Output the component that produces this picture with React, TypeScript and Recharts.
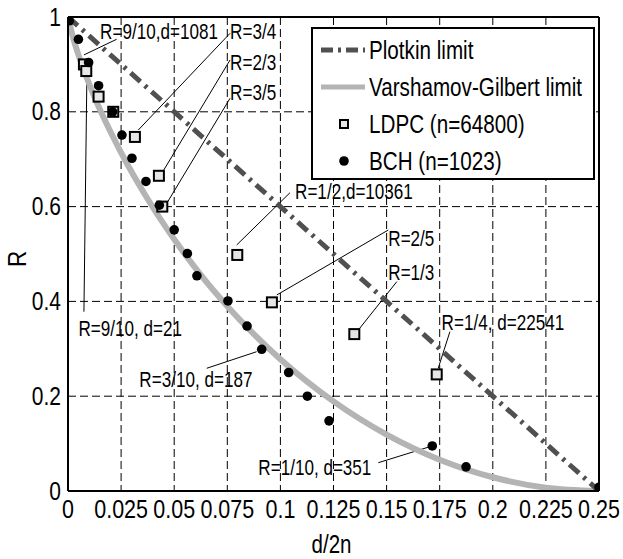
import { ComposedChart, Line, Scatter, XAxis, YAxis, CartesianGrid, ReferenceLine } from "recharts"

const FONT = "'Liberation Sans', Arial, sans-serif"

// axis ticks
const xTicks = [0, 0.025, 0.05, 0.075, 0.1, 0.125, 0.15, 0.175, 0.2, 0.225, 0.25]
const yTicks = [0, 0.2, 0.4, 0.6, 0.8, 1]

// Plotkin limit (straight dash-dot line)
const plotkin = [
  { x: 0, y: 1 },
  { x: 0.1, y: 0.6 },
  { x: 0.2, y: 0.2 },
  { x: 0.25, y: 0 },
]

// Varshamov-Gilbert limit
const gilbert = [
  { x: 0, y: 1 },
  { x: 0.0025, y: 0.955 },
  { x: 0.005, y: 0.919 },
  { x: 0.0125, y: 0.831 },
  { x: 0.025, y: 0.714 },
  { x: 0.0375, y: 0.616 },
  { x: 0.05, y: 0.531 },
  { x: 0.0625, y: 0.456 },
  { x: 0.075, y: 0.39 },
  { x: 0.0875, y: 0.331 },
  { x: 0.1, y: 0.278 },
  { x: 0.125, y: 0.189 },
  { x: 0.15, y: 0.119 },
  { x: 0.175, y: 0.066 },
  { x: 0.2, y: 0.029 },
  { x: 0.225, y: 0.007 },
  { x: 0.25, y: 0 },
]

// LDPC (n=64800)
const ldpc = [
  { x: 0.0075, y: 0.9 },
  { x: 0.0086, y: 0.886 },
  { x: 0.0144, y: 0.832 },
  { x: 0.0213, y: 0.8 },
  { x: 0.0315, y: 0.747 },
  { x: 0.0428, y: 0.665 },
  { x: 0.0444, y: 0.6 },
  { x: 0.0797, y: 0.498 },
  { x: 0.096, y: 0.398 },
  { x: 0.1348, y: 0.331 },
  { x: 0.1736, y: 0.246 },
]

// BCH (n=1023)
const bch = [
  { x: 0.0006, y: 0.992 },
  { x: 0.0049, y: 0.953 },
  { x: 0.0097, y: 0.904 },
  { x: 0.0144, y: 0.855 },
  { x: 0.021, y: 0.8 },
  { x: 0.0254, y: 0.751 },
  { x: 0.0301, y: 0.702 },
  { x: 0.0367, y: 0.653 },
  { x: 0.043, y: 0.603 },
  { x: 0.05, y: 0.551 },
  { x: 0.0562, y: 0.501 },
  { x: 0.0607, y: 0.454 },
  { x: 0.0753, y: 0.401 },
  { x: 0.0843, y: 0.348 },
  { x: 0.0912, y: 0.299 },
  { x: 0.1039, y: 0.25 },
  { x: 0.1127, y: 0.2 },
  { x: 0.1229, y: 0.148 },
  { x: 0.1715, y: 0.095 },
  { x: 0.1874, y: 0.051 },
  { x: 0.25, y: 0.008 },
]

// annotation texts (anchored at their left/middle, in data units)
const notes = [
  { x: 0.0151, y: 0.9705, text: "R=9/10,d=1081" },
  { x: 0.0763, y: 0.9705, text: "R=3/4" },
  { x: 0.0763, y: 0.9057, text: "R=2/3" },
  { x: 0.0763, y: 0.8424, text: "R=3/5" },
  { x: 0.1069, y: 0.6329, text: "R=1/2,d=10361" },
  { x: 0.1508, y: 0.5338, text: "R=2/5" },
  { x: 0.1508, y: 0.4627, text: "R=1/3" },
  { x: 0.1759, y: 0.3572, text: "R=1/4, d=22541" },
  { x: 0.0049, y: 0.3439, text: "R=9/10, d=21" },
  { x: 0.0336, y: 0.2363, text: "R=3/10, d=187" },
  { x: 0.0896, y: 0.0513, text: "R=1/10, d=351" },
]

// leader lines: [x1, y1, x2, y2]
const leaders = [
  [0.0075, 0.92, 0.0229, 0.953],
  [0.0331, 0.7616, 0.0763, 0.9656],
  [0.0449, 0.6757, 0.0763, 0.9093],
  [0.0465, 0.607, 0.0763, 0.8285],
  [0.0794, 0.519, 0.1045, 0.6293],
  [0.0983, 0.4135, 0.1508, 0.5506],
  [0.1367, 0.3397, 0.1548, 0.4416],
  [0.1743, 0.2589, 0.1798, 0.3361],
  [0.0089, 0.8776, 0.0075, 0.3783],
  [0.0653, 0.2589, 0.0888, 0.2939],
  [0.1461, 0.0597, 0.1704, 0.0935],
]

// condensed text: the reference uses a narrow sans
const NarrowText = ({ x, y, sx, size, anchor, angle, children }: any) => (
  <text
    transform={`translate(${x} ${y}) rotate(${angle || 0}) scale(${sx} 1)`}
    x={0}
    y={0}
    textAnchor={anchor || "start"}
    dominantBaseline="central"
    fontFamily={FONT}
    fontSize={size}
    fill="#000"
  >
    {children}
  </text>
)

const XTick = (props: any) => (
  <NarrowText x={props.x} y={props.y + 10} sx={0.86} size={25} anchor="middle">
    {String(props.payload.value)}
  </NarrowText>
)

const YTick = (props: any) => (
  <NarrowText x={props.x + 1} y={props.y} sx={0.84} size={25} anchor="end">
    {String(props.payload.value)}
  </NarrowText>
)

const XLabel = (props: any) => {
  const vb = props.viewBox
  return (
    <NarrowText x={vb.x + vb.width / 2 - 2} y={544} sx={0.82} size={25} anchor="middle">
      d/2n
    </NarrowText>
  )
}

const YLabel = (props: any) => {
  const vb = props.viewBox
  return (
    <NarrowText x={17} y={vb.y + vb.height / 2 + 5} sx={0.9} size={25} anchor="middle" angle={-90}>
      R
    </NarrowText>
  )
}

const Square = (props: any) => (
  <rect x={props.cx - 5} y={props.cy - 5} width={10} height={10} fill="#e6e6e6" stroke="#000" strokeWidth={2} />
)

const Dot = (props: any) => <circle cx={props.cx} cy={props.cy} r={4.8} fill="#000" />

const Note = (props: any) => (
  <NarrowText x={props.cx} y={props.cy} sx={0.76} size={22.5}>
    {props.payload.text}
  </NarrowText>
)

const legendRows = [
  { name: "Plotkin limit", kind: "plotkin" },
  { name: "Varshamov-Gilbert limit", kind: "gilbert" },
  { name: "LDPC (n=64800)", kind: "ldpc" },
  { name: "BCH (n=1023)", kind: "bch" },
]

function LegendBox() {
  return (
    <div
      style={{
        position: "absolute",
        left: 311,
        top: 27,
        width: 280,
        height: 149,
        border: "2px solid #000",
        background: "#fff",
        fontFamily: FONT,
        fontSize: 25.5,
      }}
    >
      {legendRows.map((r, i) => (
        <div key={r.name} style={{ position: "absolute", left: 0, top: 4 + i * 37, height: 34, display: "flex", alignItems: "center" }}>
          <svg width={56} height={34}>
            {r.kind === "plotkin" && <line x1={8} y1={17} x2={52} y2={17} stroke="#505050" strokeWidth={5} strokeDasharray="12 5 3 5" />}
            {r.kind === "gilbert" && <line x1={8} y1={17} x2={52} y2={17} stroke="#b4b4b4" strokeWidth={5} />}
            {r.kind === "ldpc" && <rect x={27} y={13} width={8} height={8} fill="#e6e6e6" stroke="#000" strokeWidth={2} />}
            {r.kind === "bch" && <circle cx={31} cy={17} r={4.8} fill="#000" />}
          </svg>
          <span style={{ display: "inline-block", whiteSpace: "nowrap", transform: "scaleX(0.81)", transformOrigin: "left center" }}>
            {r.name}
          </span>
        </div>
      ))}
    </div>
  )
}

export default function App() {
  return (
    <div style={{ position: "absolute", left: 0, top: 0, width: 623, height: 559, background: "#fff" }}>
      <ComposedChart width={623} height={559} margin={{ top: 17, right: 24, left: 8, bottom: 38 }}>
        <CartesianGrid stroke="#000" strokeDasharray="8 4" strokeWidth={1} />
        <XAxis
          type="number"
          dataKey="x"
          domain={[0, 0.25]}
          ticks={xTicks}
          tick={<XTick />}
          tickLine={false}
          axisLine={{ stroke: "#000", strokeWidth: 2 }}
          height={30}
          interval={0}
          allowDataOverflow
          label={<XLabel />}
        />
        <YAxis
          type="number"
          dataKey="y"
          domain={[0, 1]}
          ticks={yTicks}
          tick={<YTick />}
          tickLine={false}
          axisLine={{ stroke: "#000", strokeWidth: 2 }}
          width={60}
          interval={0}
          allowDataOverflow
          label={<YLabel />}
        />
        <ReferenceLine y={1} stroke="#000" strokeWidth={2} />
        <ReferenceLine x={0.25} stroke="#000" strokeWidth={2} />
        {leaders.map((l, i) => (
          <ReferenceLine
            key={i}
            segment={[
              { x: l[0], y: l[1] },
              { x: l[2], y: l[3] },
            ]}
            stroke="#000"
            strokeWidth={1}
          />
        ))}
        <Line
          data={gilbert}
          dataKey="y"
          type="monotone"
          stroke="#b4b4b4"
          strokeWidth={6}
          dot={false}
          isAnimationActive={false}
          name="Varshamov-Gilbert limit"
        />
        <Line
          data={plotkin}
          dataKey="y"
          type="linear"
          stroke="#505050"
          strokeWidth={5}
          strokeDasharray="13 6 3 6"
          dot={false}
          isAnimationActive={false}
          name="Plotkin limit"
        />
        <Scatter data={ldpc} dataKey="y" shape={<Square />} isAnimationActive={false} name="LDPC (n=64800)" />
        <Scatter data={bch} dataKey="y" shape={<Dot />} isAnimationActive={false} name="BCH (n=1023)" />
        <Scatter data={notes} dataKey="y" shape={<Note />} isAnimationActive={false} legendType="none" />
      </ComposedChart>
      <LegendBox />
    </div>
  )
}
